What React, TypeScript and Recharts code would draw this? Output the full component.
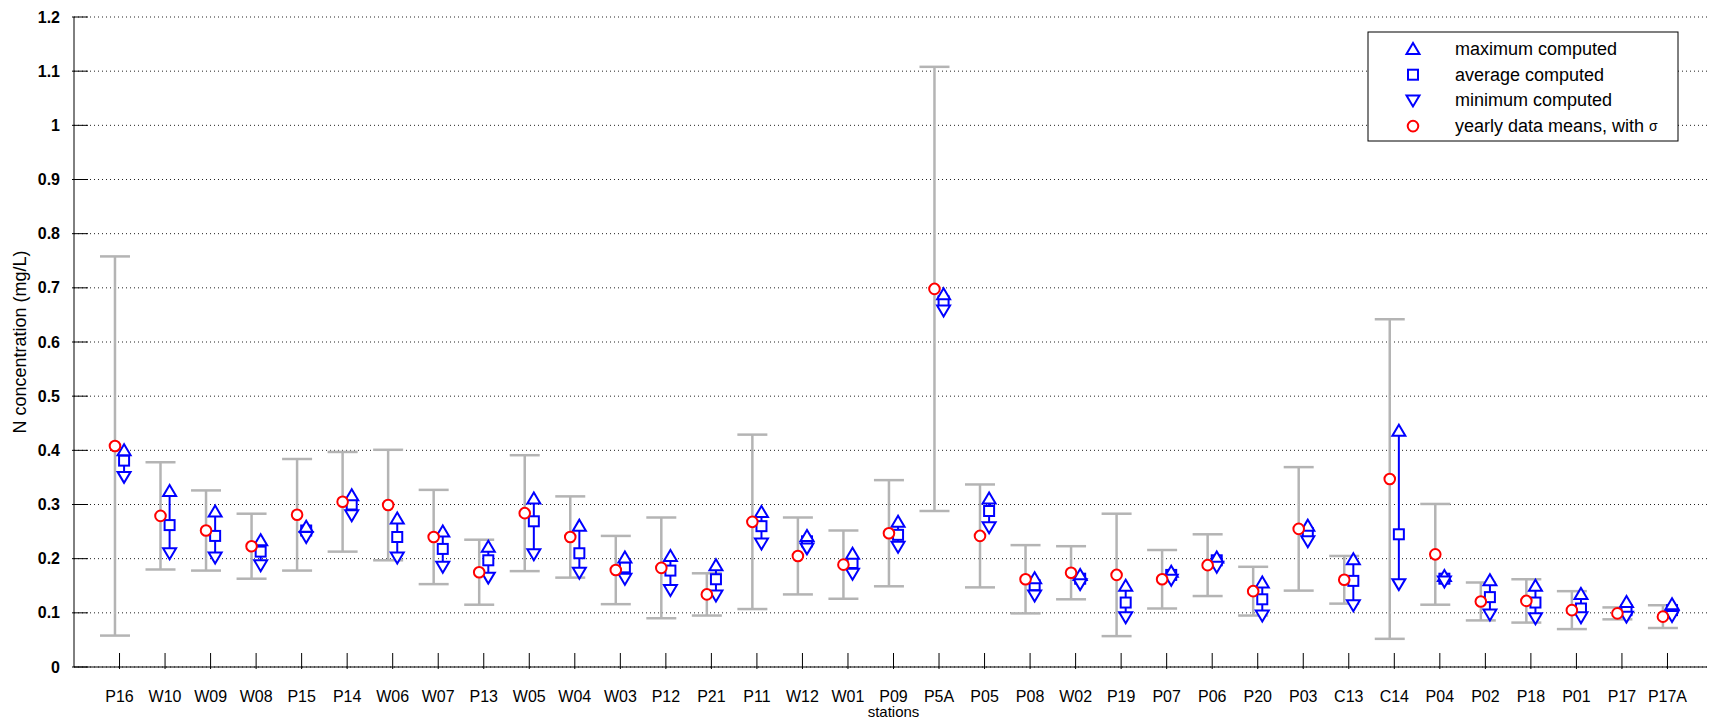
import { ComposedChart, Scatter, ErrorBar, XAxis, YAxis, CartesianGrid } from "recharts";

const W = 1707;
const H = 710;
const FONT = "Arial, 'Liberation Sans', Helvetica, sans-serif";
const TICK = 16;
const GRAY = "#b4b4b4";
const BLUE = "#0000ff";
const RED = "#ff0000";

// stations, left to right
const stations = [
  "P16", "W10", "W09", "W08", "P15", "P14", "W06", "W07", "P13", "W05", "W04", "W03",
  "P12", "P21", "P11", "W12", "W01", "P09", "P5A", "P05", "P08", "W02", "P19", "P07",
  "P06", "P20", "P03", "C13", "C14", "P04", "P02", "P18", "P01", "P17", "P17A",
];

// yearly data means and their standard deviation (mg/L)
const obsMean = [
  0.408, 0.279, 0.252, 0.223, 0.281, 0.305, 0.299, 0.24, 0.175, 0.284, 0.24, 0.179,
  0.183, 0.134, 0.268, 0.205, 0.189, 0.247, 0.698, 0.242, 0.162, 0.174, 0.17, 0.162,
  0.188, 0.14, 0.255, 0.161, 0.347, 0.208, 0.121, 0.122, 0.105, 0.099, 0.093,
];
const obsSd = [
  0.35, 0.099, 0.074, 0.06, 0.103, 0.092, 0.102, 0.087, 0.06, 0.107, 0.075, 0.063,
  0.093, 0.039, 0.161, 0.071, 0.063, 0.098, 0.41, 0.095, 0.063, 0.049, 0.113, 0.054,
  0.057, 0.045, 0.114, 0.044, 0.295, 0.093, 0.035, 0.04, 0.035, 0.011, 0.021,
];

// computed values
const compMax = [
  0.4, 0.325, 0.287, 0.234, 0.259, 0.317, 0.274, 0.25, 0.222, 0.311, 0.261, 0.202,
  0.205, 0.188, 0.286, 0.242, 0.209, 0.268, 0.688, 0.311, 0.164, 0.17, 0.15, 0.176,
  0.202, 0.156, 0.261, 0.199, 0.436, 0.168, 0.16, 0.15, 0.135, 0.12, 0.116,
];
const compAvg = [
  0.381, 0.262, 0.242, 0.213, 0.252, 0.3, 0.24, 0.218, 0.197, 0.269, 0.21, 0.184,
  0.178, 0.162, 0.26, 0.232, 0.192, 0.244, 0.675, 0.288, 0.151, 0.163, 0.119, 0.17,
  0.197, 0.125, 0.247, 0.159, 0.245, 0.163, 0.129, 0.119, 0.108, 0.105, 0.105,
];
const compMin = [
  0.351, 0.21, 0.202, 0.188, 0.24, 0.28, 0.202, 0.185, 0.165, 0.208, 0.174, 0.163,
  0.142, 0.132, 0.228, 0.219, 0.172, 0.222, 0.658, 0.258, 0.132, 0.153, 0.092, 0.161,
  0.185, 0.095, 0.232, 0.114, 0.153, 0.158, 0.097, 0.09, 0.092, 0.093, 0.094,
];

const yTicks = [0, 0.1, 0.2, 0.3, 0.4, 0.5, 0.6, 0.7, 0.8, 0.9, 1, 1.1, 1.2];
const xTicks = stations.map((_, i) => i + 1);

const obsPts = stations.map((_, i) => ({ x: i + 1 - 0.1, y: obsMean[i], err: obsSd[i] }));
const avgPts = stations.map((_, i) => ({
  x: i + 1 + 0.1,
  y: compAvg[i],
  err: [compAvg[i] - compMin[i], compMax[i] - compAvg[i]],
}));
const maxPts = stations.map((_, i) => ({ x: i + 1 + 0.1, y: compMax[i] }));
const minPts = stations.map((_, i) => ({ x: i + 1 + 0.1, y: compMin[i] }));

const fmtY = (v: number) => String(Math.round(v * 10) / 10);

// marker shapes
const TriUp = ({ cx, cy }: any) => (
  <polygon
    points={`${cx},${cy - 6} ${cx - 6.5},${cy + 5} ${cx + 6.5},${cy + 5}`}
    fill="#fff"
    stroke={BLUE}
    strokeWidth={2}
  />
);
const TriDown = ({ cx, cy }: any) => (
  <polygon
    points={`${cx},${cy + 6} ${cx - 6.5},${cy - 5} ${cx + 6.5},${cy - 5}`}
    fill="#fff"
    stroke={BLUE}
    strokeWidth={2}
  />
);
const Sq = ({ cx, cy }: any) => (
  <rect x={cx - 5} y={cy - 5} width={10} height={10} fill="#fff" stroke={BLUE} strokeWidth={2} />
);
const Circ = ({ cx, cy }: any) => (
  <circle cx={cx} cy={cy} r={5.3} fill="#fff" stroke={RED} strokeWidth={2} />
);
const Nothing = () => <g />;

// axis ticks, drawn inward like the original
const BottomTick = ({ x, y, payload }: any) => (
  <g>
    <line x1={x} x2={x} y1={y} y2={y - TICK} stroke="#000" />
    <text x={x} y={y + 27} textAnchor="middle" dominantBaseline="central" fontSize={16} fill="#000" fontFamily={FONT}>
      {stations[payload.value - 1]}
    </text>
  </g>
);
const TopTick = ({ x, y }: any) => <line x1={x} x2={x} y1={y} y2={y + TICK} stroke="#000" />;
const LeftTick = ({ x, y, payload }: any) => (
  <g>
    <line x1={x} x2={x + TICK} y1={y} y2={y} stroke="#000" />
    <text x={x - 12} y={y} textAnchor="end" dominantBaseline="central" fontSize={16} fontWeight="bold" fill="#000" fontFamily={FONT}>
      {fmtY(payload.value)}
    </text>
  </g>
);
const RightTick = ({ x, y }: any) => <line x1={x} x2={x - TICK} y1={y} y2={y} stroke="#000" />;

const XLabel = ({ viewBox }: any) => (
  <text x={viewBox.x + viewBox.width / 2} y={viewBox.y + 44} textAnchor="middle" dominantBaseline="central" fontSize={15} fill="#000" fontFamily={FONT}>
    stations
  </text>
);
const YLabel = ({ viewBox }: any) => {
  const cx = viewBox.x + 12;
  const cy = viewBox.y + viewBox.height / 2;
  return (
    <text x={cx} y={cy} transform={`rotate(-90, ${cx}, ${cy})`} textAnchor="middle" dominantBaseline="central" fontSize={18} fill="#000" fontFamily={FONT}>
      N concentration (mg/L)
    </text>
  );
};

const legendRows = [
  { label: "maximum computed", Marker: TriUp },
  { label: "average computed", Marker: Sq },
  { label: "minimum computed", Marker: TriDown },
  { label: "yearly data means, with ", Marker: Circ, sigma: true },
];

function ChartLegend() {
  return (
    <svg width={312} height={111} style={{ position: "absolute", left: 1359, top: 23 }}>
      <rect x={1} y={1} width={310} height={109} fill="#fff" stroke="#000" />
      {legendRows.map((r, i) => {
        const cy = 18 + i * 25.7;
        const M = r.Marker;
        return (
          <g key={r.label}>
            <M cx={46} cy={cy} />
            <text x={88} y={cy} dominantBaseline="central" fontSize={18} fill="#000" fontFamily={FONT}>
              {r.label}
              {r.sigma && <tspan fontSize={14}>σ</tspan>}
            </text>
          </g>
        );
      })}
    </svg>
  );
}

export default function App() {
  return (
    <div style={{ position: "relative", width: W, height: H, fontFamily: FONT }}>
      <ComposedChart width={W} height={H} margin={{ top: 9, right: 2, bottom: 0, left: 0 }}>
        <CartesianGrid vertical={false} stroke="#222" strokeDasharray="1 3" />
        <XAxis
          type="number"
          dataKey="x"
          domain={[0, 36]}
          ticks={xTicks}
          interval={0}
          tickSize={0}
          tickLine={false}
          axisLine={{ stroke: "#000" }}
          height={51}
          tick={BottomTick}
          allowDataOverflow
          label={{ content: XLabel }}
        />
        <XAxis
          xAxisId="top"
          orientation="top"
          type="number"
          dataKey="x"
          domain={[0, 36]}
          ticks={xTicks}
          interval={0}
          tickSize={0}
          tickLine={false}
          axisLine={{ stroke: "#000" }}
          height={0}
          tick={TopTick}
          allowDataOverflow
        />
        <YAxis
          type="number"
          domain={[0, 1.2]}
          ticks={yTicks}
          interval={0}
          tickSize={0}
          tickLine={false}
          axisLine={{ stroke: "#000" }}
          width={66}
          tick={LeftTick}
          allowDataOverflow
          label={{ content: YLabel }}
        />
        <YAxis
          yAxisId="right"
          orientation="right"
          type="number"
          domain={[0, 1.2]}
          ticks={yTicks}
          interval={0}
          tickSize={0}
          tickLine={false}
          axisLine={{ stroke: "#000" }}
          width={0}
          tick={RightTick}
          allowDataOverflow
        />
        {/* keeps the mirrored axes tied to the data */}
        <Scatter data={obsPts} dataKey="y" xAxisId="top" yAxisId="right" shape={Nothing} isAnimationActive={false} />
        <Scatter data={obsPts} dataKey="y" shape={Nothing} isAnimationActive={false}>
          <ErrorBar dataKey="err" direction="y" width={15} stroke={GRAY} strokeWidth={2.5} isAnimationActive={false} />
        </Scatter>
        <Scatter data={avgPts} dataKey="y" shape={Sq} isAnimationActive={false}>
          <ErrorBar dataKey="err" direction="y" width={0} stroke={BLUE} strokeWidth={2} isAnimationActive={false} />
        </Scatter>
        <Scatter data={maxPts} dataKey="y" shape={TriUp} isAnimationActive={false} />
        <Scatter data={minPts} dataKey="y" shape={TriDown} isAnimationActive={false} />
        <Scatter data={obsPts} dataKey="y" shape={Circ} isAnimationActive={false} />
      </ComposedChart>
      <ChartLegend />
    </div>
  );
}
